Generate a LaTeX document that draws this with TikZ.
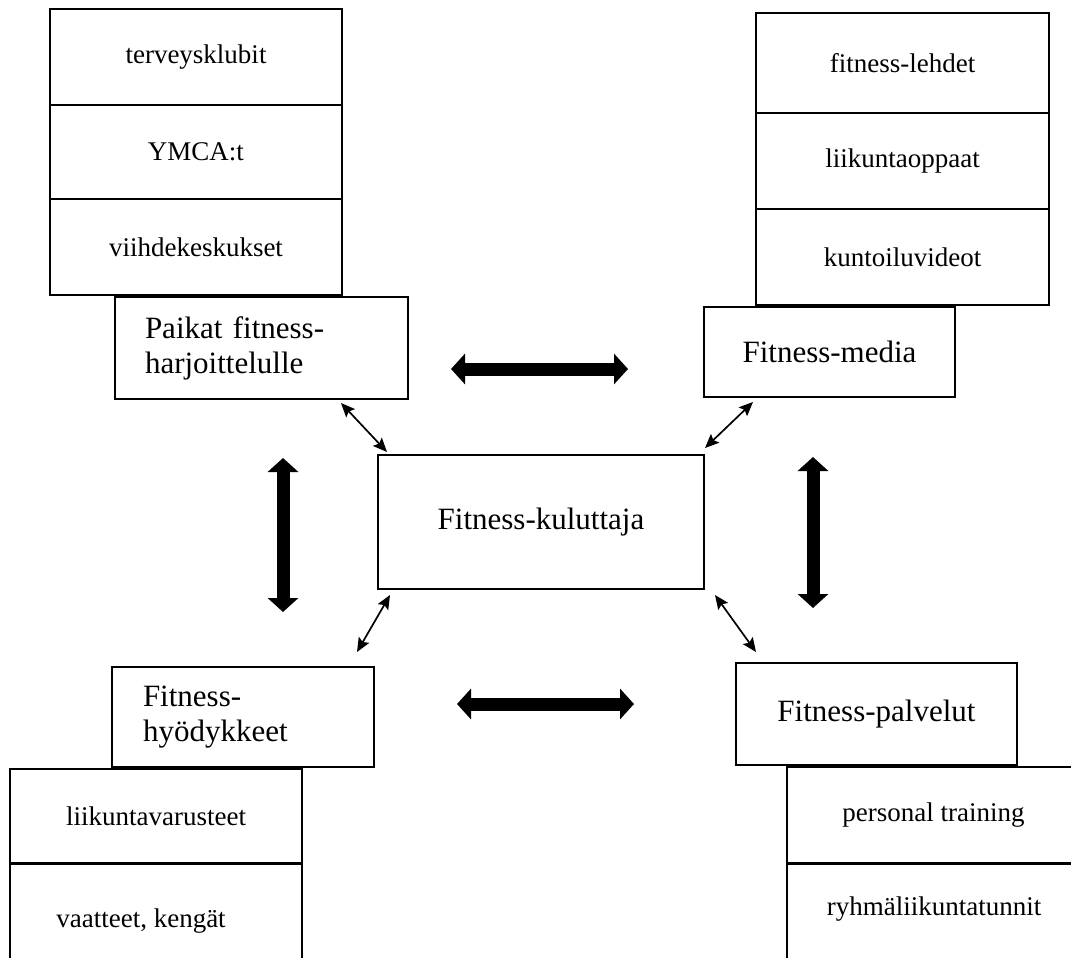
\documentclass[tikz,border=0pt]{standalone}
\usepackage{fontspec}
\setmainfont{Liberation Serif}
\usetikzlibrary{arrows.meta}
\begin{document}
\begin{tikzpicture}[x=1pt,y=-1pt,
  cell/.style={draw, line width=1.6pt, fill=white, inner sep=0pt, font=\fontsize{27}{32}\selectfont},
  celltext/.style={inner sep=0pt, font=\fontsize{27}{32}\selectfont},
  mainbox/.style={draw, line width=1.6pt, fill=white, inner sep=0pt, font=\fontsize{31}{35}\selectfont},
  bigarrow/.style={line width=13pt, {Triangle[length=14pt,width=30pt]}-{Triangle[length=14pt,width=30pt]}},
  smallarrow/.style={line width=1.7pt, {Stealth[length=14pt,width=12pt,inset=2.5pt]}-{Stealth[length=14pt,width=12pt,inset=2.5pt]}}]
\useasboundingbox (0,0) rectangle (1071,958);
\clip (0,0) rectangle (1071,958);
\fill[white] (0,0) rectangle (1071,958);

% top-left stack
\node[cell, minimum width=292pt, minimum height=96pt] (tl1) at (196,57) {terveysklubit};
\node[cell, minimum width=292pt, minimum height=94pt] (tl2) at (196,152) {YMCA:t};
\node[cell, minimum width=292pt, minimum height=96pt] (tl3) at (196,247) {viihdekeskukset};

% top-right stack
\node[cell, minimum width=293pt, minimum height=100pt] (tr1) at (902.5,63) {fitness-lehdet};
\node[cell, minimum width=293pt, minimum height=96pt] (tr2) at (902.5,161) {liikuntaoppaat};
\node[cell, minimum width=293pt, minimum height=96pt] (tr3) at (902.5,257) {kuntoiluvideot};

% bottom-left stack
\node[cell, minimum width=292pt, minimum height=94pt] (bl1) at (156,816) {liikuntavarusteet};
\node[cell, minimum width=292pt, minimum height=130pt, anchor=north] (bl2) at (156,863) {};
\node[celltext] (bl2t) at (141,921) {vaatteet, kengät};

% bottom-right stack
\node[cell, minimum width=293pt, minimum height=96pt] (br1) at (933.5,815) {personal training};
\node[cell, minimum width=293pt, minimum height=130pt, anchor=north] (br2) at (933.5,863) {};
\node[celltext] (br2t) at (934,909) {ryhmäliikuntatunnit};

% main boxes
\node[mainbox, minimum width=293pt, minimum height=102pt, text width=233pt, align=left] (paikat) at (261.5,348) {Paikat fitness-\\harjoittelulle};
\node[mainbox, minimum width=251pt, minimum height=90pt] (media) at (829.5,352) {Fitness-media};
\node[mainbox, minimum width=326pt, minimum height=134pt] (kulut) at (541,522) {Fitness-kuluttaja};
\node[mainbox, minimum width=262pt, minimum height=100pt, text width=200pt, align=left] (hyod) at (243,717) {Fitness-\\hyödykkeet};
\node[mainbox, minimum width=281pt, minimum height=102pt] (palv) at (876.5,714) {Fitness-palvelut};

% big arrow end points
\coordinate (th1) at (451,369);
\coordinate (th2) at (628,369);
\coordinate (bh1) at (457,704);
\coordinate (bh2) at (634,704);
\coordinate (lv1) at (283,458);
\coordinate (lv2) at (283,612);
\coordinate (rv1) at (813,457);
\coordinate (rv2) at (813,608);

\draw[bigarrow] (th1) -- (th2);
\draw[bigarrow] (bh1) -- (bh2);
\draw[bigarrow] (lv1) -- (lv2);
\draw[bigarrow] (rv1) -- (rv2);

% small arrow end points
\coordinate (s1a) at (341,403);
\coordinate (s1b) at (387,452);
\coordinate (s2a) at (753,402);
\coordinate (s2b) at (705,448);
\coordinate (s3a) at (390,595);
\coordinate (s3b) at (357,652);
\coordinate (s4a) at (715,595);
\coordinate (s4b) at (756,652);

\draw[smallarrow] (s1a) -- (s1b);
\draw[smallarrow] (s2a) -- (s2b);
\draw[smallarrow] (s3a) -- (s3b);
\draw[smallarrow] (s4a) -- (s4b);
\end{tikzpicture}
\end{document}
